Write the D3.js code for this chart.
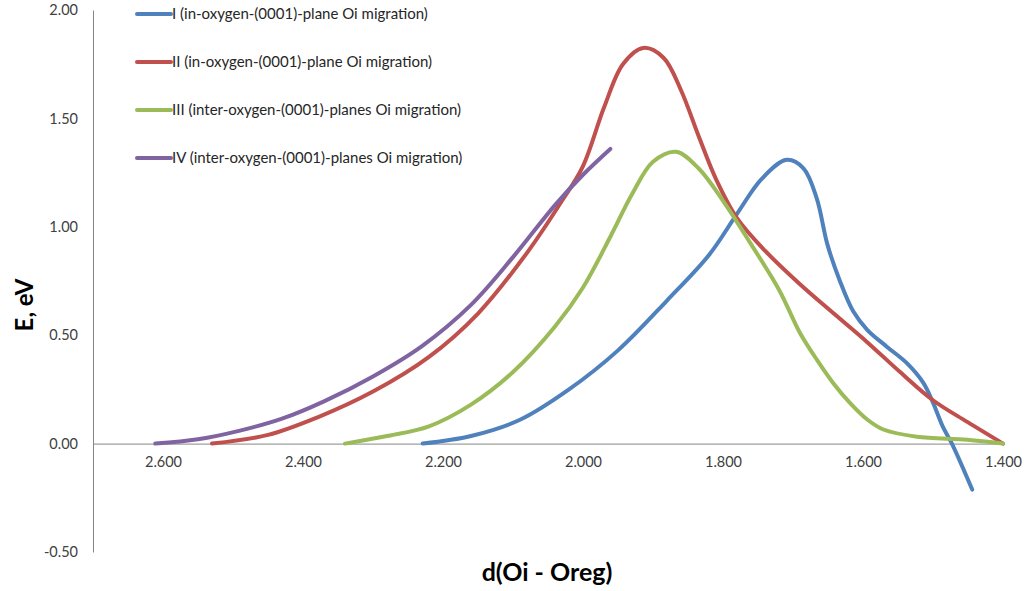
<!DOCTYPE html>
<html>
<head>
<meta charset="utf-8">
<script src="https://cdn.jsdelivr.net/npm/d3@7"></script>
<style>
  body { margin: 0; background: #fff; }
  svg { display: block; font-family: Lato, "Open Sans", sans-serif; }
</style>
</head>
<body>
<svg width="1024" height="591"></svg>
<script>
var width = 1024;
var height = 591;

var xTicks = [2.6, 2.4, 2.2, 2.0, 1.8, 1.6, 1.4];
var yTicks = [-0.5, 0, 0.5, 1.0, 1.5, 2.0];

var seriesNames = [
  "I (in-oxygen-(0001)-plane Oi migration)",
  "II (in-oxygen-(0001)-plane Oi migration)",
  "III (inter-oxygen-(0001)-planes Oi migration)",
  "IV (inter-oxygen-(0001)-planes Oi migration)"
];
var seriesColors = ["#4F81BD", "#C0504D", "#9BBB59", "#8064A2"];

// I
var dI = [2.229, 2.16, 2.09, 2.02, 1.95, 1.88, 1.82, 1.78, 1.745, 1.709, 1.685, 1.666, 1.651, 1.633, 1.614, 1.594, 1.566, 1.537, 1.514, 1.500, 1.486, 1.473, 1.444];
var eI = [0.000, 0.035, 0.11, 0.25, 0.43, 0.66, 0.87, 1.06, 1.22, 1.309, 1.27, 1.13, 0.92, 0.75, 0.61, 0.525, 0.447, 0.37, 0.281, 0.189, 0.078, 0.000, -0.212];
// II
var dII = [2.530, 2.45, 2.38, 2.30, 2.22, 2.15, 2.08, 2.03, 2.00, 1.97, 1.943, 1.914, 1.885, 1.86, 1.835, 1.81, 1.78, 1.74, 1.69, 1.64, 1.594, 1.547, 1.500, 1.451, 1.400];
var eII = [0.000, 0.04, 0.12, 0.24, 0.40, 0.60, 0.88, 1.12, 1.28, 1.55, 1.75, 1.825, 1.78, 1.63, 1.42, 1.22, 1.04, 0.89, 0.735, 0.595, 0.468, 0.33, 0.20, 0.10, 0.000];
// III
var dIII = [2.340, 2.28, 2.22, 2.16, 2.10, 2.04, 2.00, 1.96, 1.93, 1.90, 1.867, 1.835, 1.80, 1.76, 1.72, 1.69, 1.666, 1.643, 1.619, 1.594, 1.571, 1.523, 1.451, 1.400];
var eIII = [0.000, 0.035, 0.08, 0.18, 0.33, 0.54, 0.72, 0.96, 1.15, 1.30, 1.346, 1.27, 1.12, 0.92, 0.71, 0.51, 0.387, 0.281, 0.189, 0.111, 0.065, 0.032, 0.018, 0.000];
// IV
var dIV = [2.611, 2.55, 2.49, 2.43, 2.37, 2.30, 2.23, 2.16, 2.10, 2.04, 2.00, 1.961];
var eIV = [0.000, 0.02, 0.06, 0.115, 0.195, 0.31, 0.45, 0.64, 0.86, 1.10, 1.24, 1.359];

var xs = [dI, dII, dIII, dIV];
var ys = [eI, eII, eIII, eIV];

var svg = d3.select("svg");

var xScale = d3.scaleLinear().domain([2.7, 1.4]).range([93, 1003]);
var yScale = d3.scaleLinear().domain([-0.5, 2.0]).range([552, 10]);

// X AXIS (at E = 0)
var xAxis = d3.axisBottom(xScale)
  .tickValues(xTicks)
  .tickFormat(d3.format(".3f"))
  .tickSize(0)
  .tickSizeOuter(0)
  .tickPadding(13);
var gx = svg.append("g")
  .attr("transform", `translate(0, ${yScale(0)})`)
  .call(xAxis);

// Y AXIS
var fmtY = d3.format(".2f");
var yAxis = d3.axisLeft(yScale)
  .tickValues(yTicks)
  .tickFormat((d) => fmtY(d).replace("\u2212", "-"))
  .tickSize(0)
  .tickSizeOuter(0)
  .tickPadding(15);
var gy = svg.append("g")
  .attr("transform", `translate(${xScale(2.7)}, 0)`)
  .call(yAxis);

[gx, gy].forEach(function (g) {
  g.select(".domain").attr("stroke", "#868686").attr("stroke-width", 1);
  g.selectAll("text")
    .attr("fill", "#404040")
    .style("font-size", "14.5px")
    .style("font-family", "Lato, sans-serif");
});

// curves
var line = d3.line()
  .x((d) => xScale(d[0]))
  .y((d) => yScale(d[1]))
  .curve(d3.curveCatmullRom.alpha(0.5));

seriesNames.forEach(function (name, i) {
  var pts = d3.zip(xs[i], ys[i]);
  svg.append("path")
    .datum(pts)
    .attr("d", line)
    .attr("fill", "none")
    .attr("stroke", seriesColors[i])
    .attr("stroke-width", 4)
    .attr("stroke-linecap", "round")
    .attr("stroke-linejoin", "round");
});

// legend
var legend = svg.append("g").attr("transform", "translate(137, 14)");
seriesNames.forEach(function (name, i) {
  var row = legend.append("g").attr("transform", `translate(0, ${i * 48})`);
  row.append("line")
    .attr("x1", 0).attr("x2", 34)
    .attr("stroke", seriesColors[i])
    .attr("stroke-width", 4)
    .attr("stroke-linecap", "round");
  row.append("text")
    .attr("x", 35)
    .attr("dy", "0.35em")
    .style("font-size", "15px")
    .attr("fill", "#262626")
    .text(name);
});

// axis titles
svg.append("text")
  .attr("x", 547)
  .attr("y", 581)
  .style("text-anchor", "middle")
  .style("font-size", "25px")
  .style("font-weight", "bold")
  .attr("fill", "#000")
  .text("d(Oi - Oreg)");

svg.append("text")
  .attr("transform", "rotate(-90)")
  .attr("x", -305)
  .attr("y", 33)
  .style("text-anchor", "middle")
  .style("font-size", "24px")
  .style("font-weight", "bold")
  .attr("fill", "#000")
  .text("E, eV");
</script>
</body>
</html>
